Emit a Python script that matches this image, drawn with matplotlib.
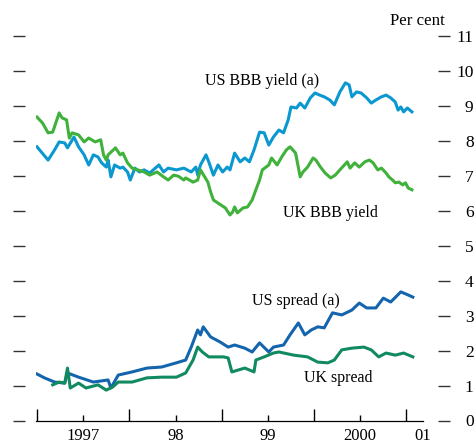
import numpy as np
import matplotlib
matplotlib.use("Agg")
import matplotlib.pyplot as plt

plt.rcParams['font.family'] = ['Liberation Serif', 'DejaVu Serif']

# dates as decimal years, values in per cent
us_bbb_t = [1997.00, 1997.12, 1997.19, 1997.24, 1997.30, 1997.33, 1997.40, 1997.45, 1997.51, 1997.56,
            1997.61, 1997.66, 1997.70, 1997.75, 1997.77, 1997.80, 1997.84, 1997.90, 1997.93, 1997.98,
            1998.01, 1998.06, 1998.11, 1998.16, 1998.22, 1998.32, 1998.37, 1998.42, 1998.51, 1998.59,
            1998.67, 1998.72, 1998.74, 1998.77, 1998.83, 1998.86, 1998.91, 1998.96, 1999.01, 1999.06,
            1999.09, 1999.14, 1999.20, 1999.25, 1999.30, 1999.35, 1999.41, 1999.46, 1999.51, 1999.56,
            1999.62, 1999.67, 1999.72, 1999.75, 1999.81, 1999.85, 1999.90, 1999.96, 2000.01, 2000.06,
            2000.11, 2000.17, 2000.22, 2000.28, 2000.34, 2000.38, 2000.41, 2000.46, 2000.51, 2000.57,
            2000.62, 2000.67, 2000.73, 2000.78, 2000.83, 2000.88, 2000.91, 2000.94, 2000.97, 2001.01,
            2001.06]
us_bbb = [7.83, 7.45, 7.74, 7.97, 7.94, 7.80, 8.11, 7.83, 7.60, 7.31,
          7.60, 7.54, 7.37, 7.25, 7.45, 6.97, 7.31, 7.22, 7.25, 7.11,
          6.88, 7.22, 7.11, 7.17, 7.08, 7.31, 7.11, 7.22, 7.17, 7.22,
          7.11, 7.25, 7.02, 7.31, 7.60, 7.40, 7.02, 7.31, 7.11, 7.25,
          7.17, 7.65, 7.40, 7.51, 7.40, 7.74, 8.25, 8.23, 7.88, 8.11,
          8.31, 8.23, 8.60, 8.97, 8.94, 9.08, 8.94, 9.23, 9.37, 9.31,
          9.26, 9.17, 9.03, 9.40, 9.66, 9.60, 9.26, 9.40, 9.37, 9.23,
          9.08, 9.17, 9.26, 9.31, 9.23, 9.11, 8.88, 8.97, 8.83, 8.94,
          8.83]

uk_bbb_t = [1997.00, 1997.06, 1997.12, 1997.17, 1997.24, 1997.27, 1997.32, 1997.35, 1997.38, 1997.45,
            1997.51, 1997.56, 1997.63, 1997.69, 1997.72, 1997.75, 1997.77, 1997.85, 1997.90, 1997.93,
            1997.98, 1998.03, 1998.09, 1998.16, 1998.22, 1998.30, 1998.37, 1998.42, 1998.48, 1998.53,
            1998.59, 1998.61, 1998.69, 1998.74, 1998.77, 1998.85, 1998.88, 1998.91, 1998.96, 1999.04,
            1999.09, 1999.12, 1999.14, 1999.17, 1999.23, 1999.28, 1999.33, 1999.37, 1999.41, 1999.44,
            1999.51, 1999.54, 1999.60, 1999.65, 1999.70, 1999.74, 1999.80, 1999.85, 1999.88, 1999.93,
            1999.99, 2000.02, 2000.07, 2000.12, 2000.18, 2000.23, 2000.28, 2000.36, 2000.39, 2000.44,
            2000.49, 2000.55, 2000.60, 2000.64, 2000.69, 2000.73, 2000.78, 2000.81, 2000.85, 2000.88,
            2000.92, 2000.96, 2000.99, 2001.02, 2001.06]
uk_bbb = [8.68, 8.51, 8.23, 8.25, 8.80, 8.66, 8.60, 8.08, 8.23, 8.17,
          7.97, 8.08, 7.97, 8.03, 7.60, 7.45, 7.60, 7.80, 7.60, 7.65,
          7.37, 7.22, 7.17, 7.11, 7.02, 7.11, 6.97, 6.88, 7.02, 6.99,
          6.88, 6.94, 6.82, 6.88, 7.17, 6.82, 6.54, 6.31, 6.22, 6.08,
          5.88, 5.97, 6.11, 5.94, 6.08, 6.11, 6.31, 6.60, 6.88, 7.17,
          7.31, 7.51, 7.31, 7.54, 7.74, 7.83, 7.65, 6.97, 7.11, 7.25,
          7.51, 7.45, 7.25, 7.08, 6.94, 7.02, 7.17, 7.40, 7.22, 7.37,
          7.25, 7.40, 7.45, 7.37, 7.17, 7.22, 7.08, 6.97, 6.88, 6.80,
          6.82, 6.74, 6.80, 6.65, 6.60]

us_spread_t = [1997.00, 1997.08, 1997.19, 1997.30, 1997.33, 1997.45, 1997.61, 1997.77, 1997.80, 1997.88,
               1998.03, 1998.19, 1998.35, 1998.51, 1998.61, 1998.67, 1998.74, 1998.77, 1998.80, 1998.88,
               1998.98, 1999.07, 1999.14, 1999.25, 1999.33, 1999.41, 1999.51, 1999.56, 1999.67, 1999.74,
               1999.83, 1999.90, 1999.97, 2000.04, 2000.11, 2000.20, 2000.30, 2000.41, 2000.49, 2000.57,
               2000.67, 2000.75, 2000.83, 2000.94, 2001.02, 2001.07]
us_spread = [1.33, 1.22, 1.10, 1.07, 1.36, 1.24, 1.10, 1.16, 0.93, 1.30,
             1.39, 1.50, 1.53, 1.65, 1.73, 2.10, 2.59, 2.45, 2.68, 2.39,
             2.25, 2.10, 2.16, 2.07, 1.96, 2.22, 1.96, 2.10, 2.16, 2.45,
             2.79, 2.45, 2.59, 2.68, 2.65, 3.08, 3.02, 3.16, 3.36, 3.22,
             3.22, 3.50, 3.39, 3.68, 3.59, 3.53]

uk_spread_t = [1997.17, 1997.24, 1997.30, 1997.33, 1997.36, 1997.45, 1997.53, 1997.66, 1997.75, 1997.82,
               1997.88, 1998.03, 1998.19, 1998.35, 1998.51, 1998.61, 1998.69, 1998.74, 1998.79, 1998.86,
               1999.02, 1999.07, 1999.11, 1999.25, 1999.35, 1999.37, 1999.46, 1999.56, 1999.62, 1999.78,
               1999.93, 2000.04, 2000.15, 2000.22, 2000.30, 2000.41, 2000.54, 2000.62, 2000.70, 2000.78,
               2000.88, 2000.97, 2001.07]
uk_spread = [1.02, 1.10, 1.07, 1.50, 0.93, 1.07, 0.93, 1.02, 0.87, 0.96,
             1.10, 1.10, 1.22, 1.24, 1.24, 1.36, 1.73, 2.10, 1.96, 1.82,
             1.82, 1.79, 1.39, 1.50, 1.39, 1.73, 1.82, 1.93, 1.96, 1.87,
             1.82, 1.67, 1.65, 1.73, 2.02, 2.07, 2.10, 2.02, 1.82, 1.93,
             1.87, 1.93, 1.82]

year_ticks = [1997, 1998, 1999, 2000, 2001]
mid_ticks = [1997.5, 1998.5, 1999.5, 2000.5, 2001.18]
mid_labels = ['1997', '98', '99', '2000', '01']
y_ticks = list(range(0, 12))

fs = 11.5     # annotations
tfs = 12.5    # tick labels
fig = plt.figure(figsize=(4.77, 4.46), dpi=100)
ax = fig.add_axes([36 / 477, 25.5 / 446, 387 / 477, 384.5 / 446])

ax.plot(us_bbb_t, us_bbb, color='#0b97d0', lw=2.2)
ax.plot(uk_bbb_t, uk_bbb, color='#40b13a', lw=2.2)
ax.plot(us_spread_t, us_spread, color='#1465ad', lw=2.2)
ax.plot(uk_spread_t, uk_spread, color='#108a5e', lw=2.2)

ax.set_xlim(1996.989, 2001.074)
ax.set_ylim(0, 11)

for s in ['top', 'left', 'right']:
    ax.spines[s].set_visible(False)
ax.spines['bottom'].set_linewidth(0.9)
ax.spines['left'].set_position(('outward', 7.9))
ax.spines['right'].set_position(('outward', 10.8))

# x axis: tall ticks at year start, short ticks mid-year with labels
ax.set_xticks(year_ticks)
ax.set_xticklabels([])
ax.set_xticks(mid_ticks, minor=True)
ax.set_xticklabels(mid_labels, minor=True, fontsize=12)
ax.tick_params(axis='x', which='major', direction='in', length=8.6, width=1.0)
ax.tick_params(axis='x', which='minor', direction='in', length=4.3, width=1.0, pad=5.5)
ax.xaxis.get_minor_ticks()[-1].tick1line.set_visible(False)

# y axis: dashes on both sides, labels on the right
ax.set_yticks(y_ticks)
ax.tick_params(axis='y', left=True, right=True, labelleft=False, labelright=True,
               direction='out', length=8.3, width=1.0, color='#333333', pad=17.3,
               labelsize=tfs)
for lab in ax.get_yticklabels():
    lab.set_horizontalalignment('right')

ax.text(2001.12, 11.43, 'Per cent', ha='center', va='center', fontsize=12.2)
ax.text(1999.44, 9.71, 'US BBB yield (a)', ha='center', va='center', fontsize=fs)
ax.text(2000.18, 5.94, 'UK BBB yield', ha='center', va='center', fontsize=fs)
ax.text(1999.80, 3.42, 'US spread (a)', ha='center', va='center', fontsize=fs)
ax.text(2000.26, 1.22, 'UK spread', ha='center', va='center', fontsize=fs)

fig.savefig('out.png', dpi=100)
